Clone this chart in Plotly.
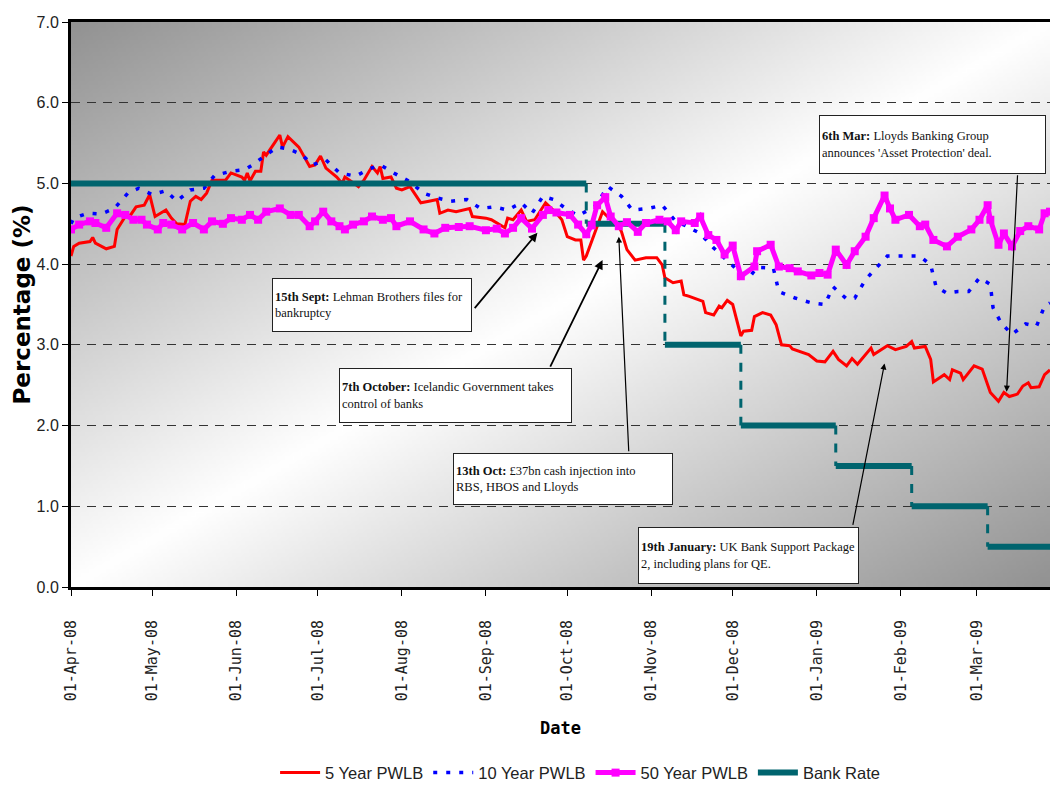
import base64
import struct
import zlib

import plotly.graph_objects as go

# ---------------------------------------------------------------------------
# PWLB borrowing rates vs Bank Rate, April 2008 - March 2009
# ---------------------------------------------------------------------------
five_yr_dates = [
    "2008-04-01", "2008-04-02", "2008-04-04", "2008-04-08", "2008-04-09", "2008-04-10",
    "2008-04-14", "2008-04-17", "2008-04-18", "2008-04-21", "2008-04-23", "2008-04-25",
    "2008-04-28", "2008-04-30", "2008-05-02", "2008-05-06", "2008-05-08", "2008-05-10",
    "2008-05-13", "2008-05-15", "2008-05-17", "2008-05-19", "2008-05-21", "2008-05-23",
    "2008-05-28", "2008-05-30", "2008-06-03", "2008-06-04", "2008-06-05", "2008-06-06",
    "2008-06-08", "2008-06-10", "2008-06-11", "2008-06-12", "2008-06-15", "2008-06-17",
    "2008-06-18", "2008-06-20", "2008-06-24", "2008-06-28", "2008-06-30", "2008-07-02",
    "2008-07-04", "2008-07-08", "2008-07-10", "2008-07-11", "2008-07-14", "2008-07-16",
    "2008-07-18", "2008-07-21", "2008-07-23", "2008-07-24", "2008-07-25", "2008-07-28",
    "2008-07-30", "2008-08-01", "2008-08-04", "2008-08-08", "2008-08-11", "2008-08-14",
    "2008-08-15", "2008-08-18", "2008-08-21", "2008-08-26", "2008-08-27", "2008-09-01",
    "2008-09-03", "2008-09-08", "2008-09-09", "2008-09-11", "2008-09-14", "2008-09-16",
    "2008-09-19", "2008-09-23", "2008-09-27", "2008-09-29", "2008-10-01", "2008-10-04",
    "2008-10-06", "2008-10-07", "2008-10-08", "2008-10-11", "2008-10-14", "2008-10-17",
    "2008-10-20", "2008-10-21", "2008-10-23", "2008-10-26", "2008-10-30", "2008-11-03",
    "2008-11-05", "2008-11-06", "2008-11-09", "2008-11-12", "2008-11-13", "2008-11-15",
    "2008-11-20", "2008-11-21", "2008-11-24", "2008-11-26", "2008-11-27", "2008-11-29",
    "2008-12-01", "2008-12-04", "2008-12-05", "2008-12-08", "2008-12-09", "2008-12-12",
    "2008-12-15", "2008-12-17", "2008-12-19", "2008-12-22", "2008-12-23", "2008-12-29",
    "2009-01-01", "2009-01-04", "2009-01-07", "2009-01-09", "2009-01-12", "2009-01-14",
    "2009-01-16", "2009-01-21", "2009-01-22", "2009-01-27", "2009-01-30", "2009-02-03",
    "2009-02-05", "2009-02-06", "2009-02-10", "2009-02-12", "2009-02-13", "2009-02-17",
    "2009-02-19", "2009-02-20", "2009-02-23", "2009-02-24", "2009-02-28", "2009-03-03",
    "2009-03-04", "2009-03-06", "2009-03-09", "2009-03-11", "2009-03-13", "2009-03-16",
    "2009-03-18", "2009-03-20", "2009-03-21", "2009-03-24", "2009-03-26", "2009-03-28",
]
five_yr_vals = [
    4.10, 4.22, 4.26, 4.28, 4.33, 4.26,
    4.19, 4.22, 4.43, 4.59, 4.61, 4.71,
    4.73, 4.86, 4.59, 4.67, 4.57, 4.50,
    4.49, 4.78, 4.84, 4.80, 4.88, 5.04,
    5.04, 5.13, 5.08, 5.04, 5.13, 5.03,
    5.15, 5.15, 5.39, 5.35, 5.50, 5.60,
    5.45, 5.58, 5.45, 5.21, 5.23, 5.34,
    5.19, 5.08, 5.00, 5.08, 5.01, 4.96,
    5.04, 5.21, 5.13, 5.21, 5.06, 5.08,
    4.94, 4.92, 4.96, 4.76, 4.78, 4.80,
    4.63, 4.67, 4.65, 4.69, 4.59, 4.57,
    4.55, 4.45, 4.57, 4.55, 4.67, 4.53,
    4.55, 4.76, 4.63, 4.55, 4.34, 4.30,
    4.30, 4.05, 4.10, 4.38, 4.65, 4.55,
    4.47, 4.40, 4.18, 4.05, 4.08, 4.08,
    3.99, 3.83, 3.77, 3.79, 3.62, 3.60,
    3.54, 3.40, 3.37, 3.48, 3.46, 3.55,
    3.50, 3.11, 3.17, 3.18, 3.35, 3.40,
    3.37, 3.25, 3.00, 2.99, 2.95, 2.88,
    2.80, 2.79, 2.92, 2.82, 2.74, 2.83,
    2.76, 2.96, 2.88, 2.99, 2.94, 2.98,
    3.04, 2.96, 2.98, 2.82, 2.54, 2.63,
    2.57, 2.69, 2.65, 2.57, 2.74, 2.70,
    2.61, 2.41, 2.30, 2.41, 2.36, 2.39,
    2.49, 2.53, 2.47, 2.48, 2.63, 2.69,
]

ten_yr_dates = [
    "2008-04-01", "2008-04-02", "2008-04-07", "2008-04-12", "2008-04-17", "2008-04-22",
    "2008-04-26", "2008-05-01", "2008-05-06", "2008-05-10", "2008-05-15", "2008-05-20",
    "2008-05-24", "2008-05-30", "2008-06-04", "2008-06-07", "2008-06-11", "2008-06-16",
    "2008-06-20", "2008-06-25", "2008-06-29", "2008-07-04", "2008-07-09", "2008-07-15",
    "2008-07-20", "2008-07-24", "2008-07-29", "2008-08-04", "2008-08-09", "2008-08-14",
    "2008-08-19", "2008-08-25", "2008-08-30", "2008-09-04", "2008-09-09", "2008-09-14",
    "2008-09-18", "2008-09-22", "2008-09-26", "2008-09-30", "2008-10-05", "2008-10-11",
    "2008-10-16", "2008-10-21", "2008-10-25", "2008-10-31", "2008-11-05", "2008-11-10",
    "2008-11-14", "2008-11-19", "2008-11-24", "2008-12-02", "2008-12-07", "2008-12-10",
    "2008-12-16", "2008-12-18", "2008-12-24", "2008-12-30", "2009-01-04", "2009-01-07",
    "2009-01-12", "2009-01-15", "2009-01-19", "2009-01-23", "2009-01-27", "2009-02-02",
    "2009-02-08", "2009-02-12", "2009-02-14", "2009-02-18", "2009-02-22", "2009-02-26",
    "2009-03-02", "2009-03-06", "2009-03-07", "2009-03-10", "2009-03-14", "2009-03-19",
    "2009-03-23", "2009-03-26", "2009-03-28",
]
ten_yr_vals = [
    4.50, 4.57, 4.63, 4.62, 4.69, 4.88,
    4.94, 4.86, 4.91, 4.78, 4.92, 4.94,
    5.10, 5.15, 5.17, 5.23, 5.33, 5.45,
    5.43, 5.36, 5.23, 5.29, 5.13, 5.09,
    5.18, 5.23, 5.13, 5.02, 4.88, 4.82,
    4.78, 4.80, 4.69, 4.71, 4.67, 4.76,
    4.63, 4.84, 4.80, 4.70, 4.60, 4.71,
    4.96, 4.84, 4.67, 4.69, 4.73, 4.53,
    4.47, 4.38, 4.20, 3.95, 3.83, 3.96,
    3.95, 3.66, 3.58, 3.52, 3.50, 3.72,
    3.57, 3.58, 3.81, 3.95, 4.10, 4.10,
    4.10, 3.99, 3.72, 3.64, 3.66, 3.66,
    3.83, 3.75, 3.46, 3.27, 3.13, 3.26,
    3.23, 3.48, 3.52,
]

fifty_yr_dates = [
    "2008-04-01", "2008-04-04", "2008-04-08", "2008-04-10", "2008-04-14", "2008-04-18",
    "2008-04-21", "2008-04-24", "2008-04-27", "2008-04-29", "2008-05-03", "2008-05-05",
    "2008-05-08", "2008-05-12", "2008-05-16", "2008-05-20", "2008-05-23", "2008-05-27",
    "2008-05-30", "2008-06-03", "2008-06-06", "2008-06-09", "2008-06-12", "2008-06-17",
    "2008-06-21", "2008-06-24", "2008-06-28", "2008-06-30", "2008-07-03", "2008-07-06",
    "2008-07-09", "2008-07-11", "2008-07-14", "2008-07-18", "2008-07-21", "2008-07-25",
    "2008-07-28", "2008-07-30", "2008-08-04", "2008-08-09", "2008-08-13", "2008-08-17",
    "2008-08-22", "2008-08-26", "2008-09-01", "2008-09-05", "2008-09-08", "2008-09-11",
    "2008-09-14", "2008-09-18", "2008-09-22", "2008-09-24", "2008-09-27", "2008-10-02",
    "2008-10-05", "2008-10-08", "2008-10-10", "2008-10-12", "2008-10-15", "2008-10-17",
    "2008-10-20", "2008-10-23", "2008-10-27", "2008-10-30", "2008-11-04", "2008-11-07",
    "2008-11-10", "2008-11-12", "2008-11-17", "2008-11-19", "2008-11-22", "2008-11-25",
    "2008-11-28", "2008-12-01", "2008-12-04", "2008-12-09", "2008-12-10", "2008-12-15",
    "2008-12-18", "2008-12-22", "2008-12-25", "2008-12-30", "2009-01-02", "2009-01-05",
    "2009-01-08", "2009-01-12", "2009-01-15", "2009-01-19", "2009-01-22", "2009-01-26",
    "2009-01-28", "2009-01-30", "2009-02-04", "2009-02-08", "2009-02-10", "2009-02-13",
    "2009-02-18", "2009-02-22", "2009-02-27", "2009-03-02", "2009-03-05", "2009-03-06",
    "2009-03-09", "2009-03-11", "2009-03-14", "2009-03-17", "2009-03-20", "2009-03-24",
    "2009-03-26", "2009-03-28",
]
fifty_yr_vals = [
    4.43, 4.49, 4.53, 4.51, 4.45, 4.63,
    4.61, 4.55, 4.55, 4.49, 4.43, 4.51,
    4.49, 4.43, 4.51, 4.43, 4.53, 4.50,
    4.57, 4.55, 4.61, 4.55, 4.65, 4.69,
    4.61, 4.61, 4.47, 4.53, 4.65, 4.53,
    4.47, 4.43, 4.49, 4.53, 4.59, 4.55,
    4.57, 4.47, 4.53, 4.43, 4.38, 4.45,
    4.46, 4.47, 4.42, 4.44, 4.38, 4.45,
    4.57, 4.44, 4.61, 4.67, 4.64, 4.61,
    4.49, 4.37, 4.48, 4.73, 4.83, 4.59,
    4.47, 4.52, 4.40, 4.51, 4.55, 4.53,
    4.42, 4.53, 4.51, 4.59, 4.36, 4.30,
    4.12, 4.23, 3.85, 3.97, 4.16, 4.24,
    3.97, 3.95, 3.91, 3.86, 3.89, 3.87,
    4.18, 3.99, 4.16, 4.34, 4.57, 4.85,
    4.69, 4.55, 4.61, 4.47, 4.49, 4.30,
    4.22, 4.34, 4.43, 4.55, 4.73, 4.55,
    4.24, 4.38, 4.22, 4.41, 4.47, 4.43,
    4.63, 4.65,
]

# Bank Rate: dates on which a new rate took effect, and the rate set
bank_rate_dates = ["2008-04-01", "2008-10-08", "2008-11-06", "2008-12-04",
                   "2009-01-08", "2009-02-05", "2009-03-05"]
bank_rate_vals = [5.0, 4.5, 3.0, 2.0, 1.5, 1.0, 0.5]
series_end = "2009-03-28"

x_tick_dates = ["2008-04-01", "2008-05-01", "2008-06-01", "2008-07-01", "2008-08-01",
                "2008-09-01", "2008-10-01", "2008-11-01", "2008-12-01", "2009-01-01",
                "2009-02-01", "2009-03-01"]
y_tick_vals = [0, 1, 2, 3, 4, 5, 6, 7]

# Event call-outs: (box anchor date, box anchor value, box w, box h, text,
#                   arrow head date, arrow head value, arrow tail dx, dy, width)
events = [
    ("2008-06-14", 3.83, 200, 54,
     "<b>15th Sept:</b> Lehman Brothers files for<br>bankruptcy",
     "2008-09-20", 4.39, -64, 77, 1.8),
    ("2008-07-09", 2.71, 233, 55,
     "<b>7th October:</b> Icelandic Government takes<br>control of banks",
     "2008-10-14", 4.05, -53, 108, 1.8),
    ("2008-08-20", 1.66, 220, 52,
     "<b>13th Oct:</b> £37bn cash injection into<br>RBS, HBOS and Lloyds",
     "2008-10-20", 4.34, 10, 216, 1.2),
    ("2008-10-27", 0.74, 221, 57,
     "<b>19th January:</b> UK Bank Support Package<br>2, including plans for QE.",
     "2009-01-26", 2.77, -32, 163, 1.2),
    ("2009-01-02", 5.85, 227, 59,
     "<b>6th Mar:</b> Lloyds Banking Group<br>announces 'Asset Protection' deal.",
     "2009-03-12", 2.42, 11, -218, 1.2),
]
BOX_PAD = 2

RED = "#FF0000"
BLUE = "#0000FF"
MAGENTA = "#FF00FF"
TEAL = "#00646E"


def gradient_png(w, h):
    """Grey diagonal shading: darker in the top-left and bottom-right corners."""
    raw = bytearray()
    for j in range(h):
        v = j / (h - 1)
        raw.append(0)
        for i in range(w):
            u = i / (w - 1)
            t = (u + v) / 2.0
            s = 1.0 - abs(2.0 * t - 1.0)
            raw.append(int(round(146 + 109 * s)))

    def chunk(kind, data):
        return (struct.pack(">I", len(data)) + kind + data
                + struct.pack(">I", zlib.crc32(kind + data) & 0xFFFFFFFF))

    png = (b"\x89PNG\r\n\x1a\n"
           + chunk(b"IHDR", struct.pack(">IIBBBBB", w, h, 8, 0, 0, 0, 0))
           + chunk(b"IDAT", zlib.compress(bytes(raw), 9))
           + chunk(b"IEND", b""))
    return "data:image/png;base64," + base64.b64encode(png).decode("ascii")


# Bank Rate as a step line: solid levels, dashed drops between them
level_x, level_y, drop_x, drop_y = [], [], [], []
ends = bank_rate_dates[1:] + [series_end]
for i, rate in enumerate(bank_rate_vals):
    level_x += [bank_rate_dates[i], ends[i], None]
    level_y += [rate, rate, None]
    if i > 0:
        drop_x += [bank_rate_dates[i], bank_rate_dates[i], None]
        drop_y += [bank_rate_vals[i - 1], rate, None]

fig = go.Figure()

fig.add_trace(go.Scatter(
    x=five_yr_dates, y=five_yr_vals, name="5 Year PWLB", mode="lines",
    line=dict(color=RED, width=3), legendrank=1))
fig.add_trace(go.Scatter(
    x=ten_yr_dates, y=ten_yr_vals, name="10 Year PWLB", mode="lines",
    line=dict(color=BLUE, width=3.5, dash="4px,9px"), legendrank=2))
fig.add_trace(go.Scatter(
    x=drop_x, y=drop_y, mode="lines", showlegend=False, hoverinfo="skip",
    line=dict(color=TEAL, width=3, dash="9px,9px")))
fig.add_trace(go.Scatter(
    x=level_x, y=level_y, name="Bank Rate", mode="lines",
    line=dict(color=TEAL, width=6), legendrank=4))
fig.add_trace(go.Scatter(
    x=fifty_yr_dates, y=fifty_yr_vals, name="50 Year PWLB", mode="lines+markers",
    line=dict(color=MAGENTA, width=5),
    marker=dict(symbol="square", size=8, color=MAGENTA), legendrank=3))

annotations = []
for (bx, by, bw, bh, text, hx, hy, dx, dy, aw) in events:
    inner = 2 * (BOX_PAD + 1)
    annotations.append(dict(
        x=bx, y=by, xref="x", yref="y", xanchor="left", yanchor="top",
        text=text, showarrow=False, align="left", valign="middle",
        width=bw - inner, height=bh - inner, bgcolor="white",
        bordercolor="#222222", borderwidth=1, borderpad=BOX_PAD,
        font=dict(family="Liberation Serif, serif", size=12.5, color="#111111")))
    annotations.append(dict(
        x=hx, y=hy, xref="x", yref="y", ax=dx, ay=dy, text="",
        showarrow=True, arrowhead=2, arrowsize=1, arrowwidth=aw,
        arrowcolor="black", standoff=0))

fig.update_layout(
    width=1050, height=787,
    margin=dict(l=71, r=0, t=22, b=200, autoexpand=False),
    paper_bgcolor="white",
    plot_bgcolor="white",
    showlegend=True,
    legend=dict(
        orientation="h", x=0.52, xanchor="center", y=-0.329, yanchor="middle",
        font=dict(family="Liberation Sans Narrow, Liberation Sans, sans-serif",
                  size=16.5, color="#222222"),
        bgcolor="rgba(0,0,0,0)", itemwidth=40, tracegroupgap=0),
    images=[dict(
        source=gradient_png(240, 140), xref="paper", yref="paper",
        x=0, y=1, sizex=1, sizey=1, xanchor="left", yanchor="top",
        sizing="stretch", layer="below")],
    annotations=annotations,
)

fig.update_xaxes(
    type="date", range=["2008-04-01", series_end],
    tickvals=x_tick_dates, tickformat="%d-%b-%y", tickangle=-90,
    tickfont=dict(family="DejaVu Sans Mono, monospace", size=15, color="#222222"),
    ticks="outside", ticklen=6, tickcolor="black", ticklabelstandoff=18,
    showgrid=False, zeroline=False,
    showline=True, linecolor="black", linewidth=3, mirror=True,
    title=dict(text="Date", standoff=22,
               font=dict(family="DejaVu Sans Mono, monospace", size=17,
                         color="black", weight="bold")),
)
fig.update_yaxes(
    range=[0, 7], tickvals=y_tick_vals, tickformat=".1f",
    tickfont=dict(family="Liberation Sans Narrow, Liberation Sans, sans-serif",
                  size=16, color="#222222"),
    ticks="outside", ticklen=6, tickcolor="black",
    showgrid=True, gridcolor="#333333", gridwidth=1, griddash="9px,7px",
    zeroline=False,
    showline=True, linecolor="black", linewidth=3,
    title=dict(text="Percentage (%)", standoff=0,
               font=dict(family="DejaVu Sans, sans-serif", size=23,
                         color="black", weight="bold")),
)

fig.write_html("out.html")
